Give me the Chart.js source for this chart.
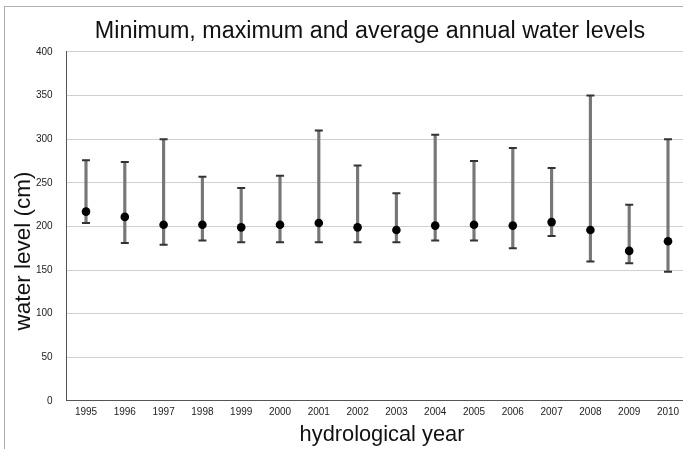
<!DOCTYPE html>
<html>
<head>
<meta charset="utf-8">
<script src="https://cdn.jsdelivr.net/npm/chart.js@4/dist/chart.umd.min.js"></script>
<style>
  html, body { margin: 0; padding: 0; background: #fff; overflow: hidden; }
  #frame { position: absolute; left: 4px; top: 6px; width: 800px; height: 500px;
           border-left: 1px solid #b0b0b0; border-top: 1px solid #b0b0b0; }
  #wrap { position: absolute; left: 0; top: 0; width: 740px; height: 449px; }
</style>
</head>
<body>
<div id="frame"></div>
<div id="wrap"><canvas id="c"></canvas></div>
<script>
const years = ['1995','1996','1997','1998','1999','2000','2001','2002','2003','2004','2005','2006','2007','2008','2009','2010'];
const maxLevels = [276, 274, 300, 257, 244, 258, 310, 270, 238, 305, 275, 290, 267, 350, 225, 300];
const avgLevels = [217, 211, 202, 202, 199, 202, 204, 199, 196, 201, 202, 201, 205, 196, 172, 183];
const minLevels = [204, 181, 179, 184, 182, 182, 182, 182, 182, 184, 184, 175, 189, 160, 158, 148];

const tickFont = { family: "'Liberation Sans Narrow','Liberation Sans',Arial,sans-serif", size: 10 };
const titleFamily = "'Liberation Sans',Arial,Helvetica,sans-serif";
const yTitleText = 'water level (cm)';
const xTitleText = 'hydrological year';

const axisTitlePlugin = {
  id: 'axisTitles',
  afterDraw(chart) {
    const ctx = chart.ctx;
    ctx.save();
    ctx.fillStyle = '#111';
    ctx.textAlign = 'center';
    ctx.textBaseline = 'middle';
    ctx.font = '21.8px ' + titleFamily;
    ctx.fillText(xTitleText, 382, 435);
    ctx.translate(23.5, 251);
    ctx.rotate(-Math.PI / 2);
    ctx.font = '22.5px ' + titleFamily;
    ctx.fillText(yTitleText, 0, 0);
    ctx.restore();
  }
};

new Chart(document.getElementById('c'), {
  type: 'bar',
  data: {
    labels: years,
    datasets: [
      {
        type: 'line', label: 'average', data: avgLevels, showLine: false,
        pointStyle: 'circle', pointRadius: 4.3, pointBackgroundColor: '#000',
        pointBorderColor: '#000', pointBorderWidth: 0, order: 1
      },
      {
        type: 'line', label: 'maximum', data: maxLevels, showLine: false,
        pointStyle: 'line', pointRadius: 4, pointBorderColor: '#333',
        pointBorderWidth: 2, order: 2
      },
      {
        type: 'line', label: 'minimum', data: minLevels, showLine: false,
        pointStyle: 'line', pointRadius: 4, pointBorderColor: '#333',
        pointBorderWidth: 2, order: 2
      },
      {
        type: 'bar', label: 'range',
        data: minLevels.map((m, i) => [m, maxLevels[i]]),
        backgroundColor: '#777777', borderWidth: 0, barThickness: 2.5, order: 3
      }
    ]
  },
  options: {
    responsive: true,
    maintainAspectRatio: false,
    animation: false,
    layout: { padding: 0 },
    plugins: {
      legend: { display: false },
      tooltip: { enabled: false },
      title: {
        display: true,
        text: 'Minimum, maximum and average annual water levels',
        color: '#111',
        font: { family: titleFamily, size: 23.3, weight: 'normal' },
        padding: { top: 18, bottom: 6 }
      }
    },
    scales: {
      x: {
        grid: { display: false, drawTicks: false },
        border: { display: true, color: '#555', width: 1 },
        ticks: { color: '#222', font: tickFont, padding: 5, maxRotation: 0, autoSkip: false },
        title: { display: false },
        afterFit: (s) => { s.height = 48; }
      },
      y: {
        min: 0, max: 400,
        grid: { color: '#cfcfcf', lineWidth: 1, drawTicks: false },
        border: { display: true, color: '#555', width: 1 },
        ticks: { stepSize: 50, color: '#222', font: tickFont, padding: 14 },
        title: { display: false },
        afterFit: (s) => { s.width = 66.6; }
      },
      y2: {
        position: 'right',
        display: true,
        min: 0, max: 400,
        grid: { display: false, drawTicks: false },
        border: { display: false },
        ticks: { display: false },
        afterFit: (s) => { s.width = 52.6; }
      }
    }
  },
  plugins: [axisTitlePlugin]
});
</script>
</body>
</html>
